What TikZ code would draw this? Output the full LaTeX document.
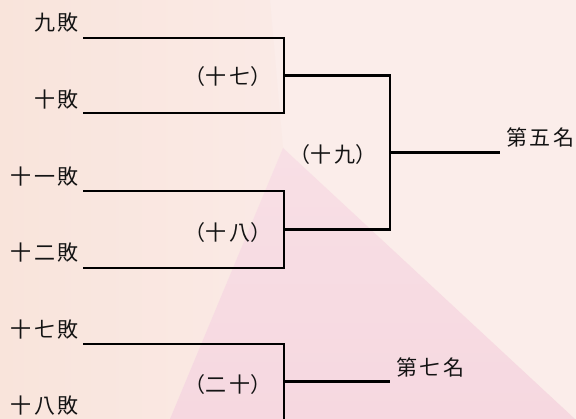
\documentclass[tikz,border=0pt]{standalone}
\usepackage{fontspec}
\newfontfamily\cjk{Noto Sans CJK TC}
\newcommand\ks{\kern 2.5pt}
\definecolor{bgright}{RGB}{251,237,234}
\definecolor{peach}{RGB}{249,228,219}
\definecolor{peachlight}{RGB}{250,234,230}
\definecolor{pinkA}{RGB}{246,216,224}
\definecolor{pinkB}{RGB}{248,223,229}
\definecolor{ink}{RGB}{20,20,20}
\begin{document}
\begin{tikzpicture}[x=1pt,y=-1pt,
  lbl/.style={inner sep=0pt,text=ink,font=\cjk\fontsize{21}{21}\selectfont},
  wire/.style={draw=black,line width=2.3pt}]
\useasboundingbox (0,0) rectangle (576,419);
\clip (0,0) rectangle (576,419);
% background
\fill[bgright] (0,0) rectangle (576,419);
\shade[left color=peach,right color=peachlight] (0,0) -- (270,0) -- (283,148) -- (170,419) -- (0,419) -- cycle;
\shade[top color=pinkB,bottom color=pinkA] (283,148) -- (576,420) -- (170,419) -- cycle;
% junction coordinates
\coordinate (s9) at (83,38);
\coordinate (s10) at (83,113);
\coordinate (s11) at (83,191);
\coordinate (s12) at (83,268);
\coordinate (s17) at (83,344);
\coordinate (s18) at (83,422);
\coordinate (m17) at (284,75.5);
\coordinate (m18) at (284,229.5);
\coordinate (m20) at (284,381.5);
\coordinate (m19) at (390,152.5);
\coordinate (e19) at (500,152.5);
\coordinate (e20) at (390,381.5);
% labels
\node[lbl,anchor=east] (l9) at (79,23) {九\ks 敗};
\node[lbl,anchor=east] (l10) at (79,100) {十\ks 敗};
\node[lbl,anchor=east] (l11) at (79,177) {十\ks 一\ks 敗};
\node[lbl,anchor=east] (l12) at (79,253) {十\ks 二\ks 敗};
\node[lbl,anchor=east] (l17) at (79,330) {十\ks 七\ks 敗};
\node[lbl,anchor=east] (l18) at (79,406) {十\ks 八\ks 敗};
\node[lbl] (g17) at (228,77) {（十\ks 七）};
\node[lbl] (g18) at (228,233) {（十\ks 八）};
\node[lbl] (g19) at (333,155) {（十\ks 九）};
\node[lbl] (g20) at (228,385) {（二\ks 十）};
\node[lbl,anchor=west] (r5) at (506,137) {第\ks 五\ks 名};
\node[lbl,anchor=west] (r7) at (396,367) {第\ks 七\ks 名};
% bracket wires
\draw[wire] (s9) -| (m17) |- (s10);
\draw[wire] (s11) -| (m18) |- (s12);
\draw[wire] (s17) -| (m20) |- (s18);
\draw[wire] (m17) -| (m19) |- (m18);
\draw[wire] (m19) -- (e19);
\draw[wire] (m20) -- (e20);
\end{tikzpicture}
\end{document}
